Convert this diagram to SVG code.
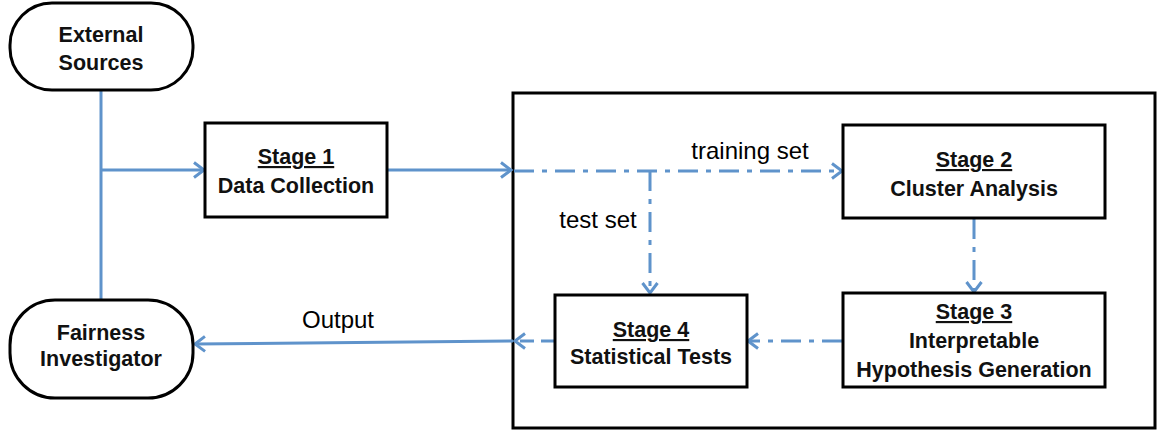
<svg xmlns="http://www.w3.org/2000/svg" width="1158" height="430" viewBox="0 0 1158 430">
<style>
.box{fill:#fff;stroke:#000;stroke-width:3}
.t{font-family:"Liberation Sans",Arial,sans-serif;font-weight:bold;font-size:21.5px;fill:#111;text-anchor:middle}
.u{text-decoration:underline}
.lbl{font-family:"Liberation Sans",Arial,sans-serif;font-size:24px;fill:#000;text-anchor:middle}
.c{fill:none;stroke:#5f93cb;stroke-width:3}
.dd{stroke-dasharray:20 8 5 8}
.ds{stroke-dasharray:14 7}
</style>
<defs>
<marker id="ah" markerWidth="18" markerHeight="18" refX="13" refY="9" orient="auto" markerUnits="userSpaceOnUse">
<path d="M3,1.5 L13,9 L3,16.5" fill="none" stroke="#5f93cb" stroke-width="3"/>
</marker>
</defs>
<rect x="513" y="93" width="642" height="335" fill="none" stroke="#000" stroke-width="3"/>
<g id="connectors">
<path class="c" d="M101,90 V300"/>
<path class="c" d="M101,170 H204" marker-end="url(#ah)"/>
<path class="c" d="M387,170 H511" marker-end="url(#ah)"/>
<path class="c dd" d="M514,171 H842" marker-end="url(#ah)"/>
<path class="c dd" d="M650,171 V293" marker-end="url(#ah)"/>
<path class="c dd" d="M974,219 V292" marker-end="url(#ah)"/>
<path class="c dd" d="M842,341 H748" marker-end="url(#ah)"/>
<path class="c ds" d="M555,341 H515" marker-end="url(#ah)"/>
<path class="c" d="M513,341 L195,344" marker-end="url(#ah)"/>
<text class="lbl" x="750" y="159">training set</text>
<text class="lbl" x="598" y="228">test set</text>
<text class="lbl" x="338" y="328">Output</text>
</g>
<g id="external-sources">
<rect class="box" x="10" y="3" width="183" height="87" rx="42" ry="42"/>
<text class="t" x="101" y="42">External</text>
<text class="t" x="101" y="70">Sources</text>
</g>
<g id="fairness-investigator">
<rect class="box" x="10" y="300" width="183" height="98" rx="45" ry="45"/>
<text class="t" x="101" y="340">Fairness</text>
<text class="t" x="101" y="366">Investigator</text>
</g>
<g id="stage1">
<rect class="box" x="205" y="123" width="182" height="94"/>
<text class="t u" x="296" y="164">Stage 1</text>
<text class="t" x="296" y="193">Data Collection</text>
</g>
<g id="stage2">
<rect class="box" x="843" y="125" width="262" height="93"/>
<text class="t u" x="974" y="167">Stage 2</text>
<text class="t" x="974" y="196">Cluster Analysis</text>
</g>
<g id="stage3">
<rect class="box" x="843" y="293" width="262" height="94"/>
<text class="t u" x="974" y="319">Stage 3</text>
<text class="t" x="974" y="348">Interpretable</text>
<text class="t" x="974" y="377">Hypothesis Generation</text>
</g>
<g id="stage4">
<rect class="box" x="555" y="295" width="192" height="92"/>
<text class="t u" x="651" y="337">Stage 4</text>
<text class="t" x="651" y="364">Statistical Tests</text>
</g>
</svg>
